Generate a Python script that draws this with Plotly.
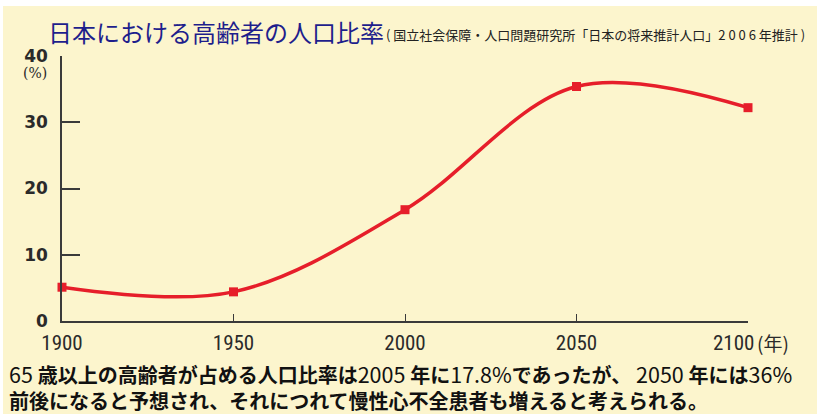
import plotly.graph_objects as go

# ---- data ----
years = [1900, 1950, 2000, 2050, 2100]
ratio = [5.1, 4.4, 16.8, 35.4, 32.2]
y_ticks = [0, 10, 20, 30, 40]
x_ticks = [1900, 1950, 2000, 2050, 2100]
x_unit = "(年)"
title_text = "日本における高齢者の人口比率"
source_text = "( 国立社会保障・人口問題研究所「日本の将来推計人口」2 0 0 6 年推計 )"


def num(s):
    return f"<span style='font-size:21.5px'>{s}</span>"


note_line1 = (num("65 ") + "<b>歳以上の高齢者が占める人口比率は</b>" + num("2005 ")
              + "<b>年に</b>" + num("17.8%") + "<b>であったが、</b>" + num(" 2050 ")
              + "<b>年には</b>" + num("36%"))
note_line2 = "<b>前後になると予想され、それにつれて慢性心不全患者も増えると考えられる。</b>"

W, H = 817, 414
L, R, T, B = 62, 748, 56, 321  # plot area pixel box
BG = "#FCF5CD"
AX = "#3a3a3a"


def px(x):
    return (x - L) / (R - L)


def py(y):
    return (B - y) / (B - T)


fig = go.Figure()
fig.add_trace(go.Scatter(
    x=years, y=ratio, mode="lines+markers",
    line=dict(color="#E61E2A", width=3.5, shape="spline", smoothing=1.0),
    marker=dict(symbol="square", size=9, color="#E61E2A"),
    hoverinfo="skip", showlegend=False, cliponaxis=False,
))

cjk = "Noto Sans CJK JP, sans-serif"
narrow = "Liberation Sans Narrow, Roboto Condensed, Arial Narrow, Roboto, sans-serif"

# the last x tick label is drawn together with the unit, right-aligned at the tick
x_ticktext = [str(v) for v in x_ticks[:-1]] + [""]

fig.update_layout(
    width=W, height=H,
    margin=dict(l=L, r=W - R, t=T, b=H - B, pad=0),
    paper_bgcolor=BG, plot_bgcolor=BG,
    xaxis=dict(
        range=[1900, 2100], tickvals=x_ticks, ticktext=x_ticktext,
        showline=True, linecolor=AX, linewidth=1.5, showgrid=False, zeroline=False,
        ticks="inside", ticklen=7, tickwidth=1.2, tickcolor=AX,
        tickfont=dict(family=narrow, size=21, color="#2a2a2a"),
        ticklabelstandoff=2,
    ),
    yaxis=dict(
        range=[0, 40], tickvals=y_ticks,
        ticktext=[f"<b>{v}</b>" for v in y_ticks],
        showline=True, linecolor=AX, linewidth=1.5, showgrid=False, zeroline=False,
        ticks="inside", ticklen=18, tickwidth=1.5, tickcolor=AX,
        tickfont=dict(family="DejaVu Sans, sans-serif", size=17, color="#2a2a2a"),
        ticklabelstandoff=9,
    ),
    shapes=[
        dict(type="rect", xref="paper", yref="paper",
             x0=px(0), x1=px(W), y0=py(6), y1=py(0),
             fillcolor="white", line=dict(width=0), layer="below"),
        dict(type="rect", xref="paper", yref="paper",
             x0=px(0), x1=px(3), y0=py(H), y1=py(0),
             fillcolor="white", line=dict(width=0), layer="below"),
    ],
    annotations=[
        dict(text=title_text, xref="paper", yref="paper", x=px(46), y=py(31),
             xanchor="left", yanchor="middle", showarrow=False,
             font=dict(family=cjk, size=24, color="#1E1E8C")),
        dict(text=source_text, xref="paper", yref="paper", x=px(384), y=py(34),
             xanchor="left", yanchor="middle", showarrow=False,
             font=dict(family=cjk, size=13, color="#222222")),
        dict(text="(%)", xref="paper", yref="paper", x=px(35), y=py(73),
             xanchor="center", yanchor="middle", showarrow=False,
             font=dict(family="DejaVu Serif, serif", size=14, color="#2a2a2a")),
        dict(text=str(x_ticks[-1]), xref="paper", yref="paper", x=px(756), y=py(343),
             xanchor="right", yanchor="middle", showarrow=False,
             font=dict(family=narrow, size=21, color="#2a2a2a")),
        dict(text=x_unit, xref="paper", yref="paper", x=px(755), y=py(342),
             xanchor="left", yanchor="middle", showarrow=False,
             font=dict(family=cjk, size=19, color="#2a2a2a")),
        dict(text=note_line1 + "<br>" + note_line2, xref="paper", yref="paper",
             x=px(7), y=py(386), align="left",
             xanchor="left", yanchor="middle", showarrow=False,
             font=dict(family=cjk, size=20, color="#111111")),
    ],
)

fig.write_html("out.html", config={"displayModeBar": False},
               post_script="document.body.style.margin='0';document.body.style.padding='0';")
